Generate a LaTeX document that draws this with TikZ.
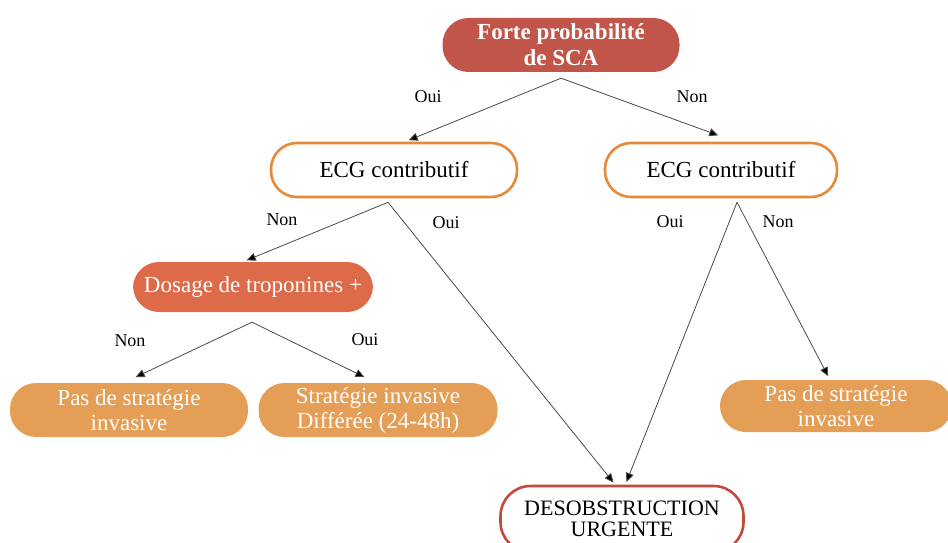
\documentclass[tikz,border=0pt]{standalone}
\usepackage{fontspec}
\setmainfont{Liberation Serif}
\usetikzlibrary{arrows.meta,calc}
\definecolor{topred}{HTML}{C25549}
\definecolor{dosred}{HTML}{DD6B4A}
\definecolor{pasorg}{HTML}{E59E55}
\definecolor{ecgorg}{HTML}{E8893A}
\definecolor{deso}{HTML}{C44A3E}
\definecolor{linegray}{HTML}{4A4A4A}
\begin{document}
\begin{tikzpicture}[x=1pt,y=-1pt,
  pill/.style={rectangle, rounded corners=26pt, align=center, inner sep=2pt,
    font=\fontsize{23}{25}\selectfont, minimum height=54pt},
  filled/.style={pill, fill=#1, draw=none, text=white},
  outlined/.style={pill, fill=white, draw=#1, line width=2.6pt, text=black},
  arr/.style={draw=linegray, line width=0.8pt, -{Triangle[length=9pt,width=8pt,fill=black]}, shorten >=4pt},
  lbl/.style={font=\fontsize{18}{20}\selectfont, text=black}]
\useasboundingbox (0,0) rectangle (948,543);

\node[filled=topred, minimum width=237pt, font=\fontsize{23}{26}\selectfont\bfseries] (top) at (561,45) {Forte probabilité\\de SCA};
\node[outlined=ecgorg, minimum width=246pt] (ecgL) at (394,170) {ECG contributif};
\node[outlined=ecgorg, minimum width=232pt] (ecgR) at (721,170) {ECG contributif};
\node[filled=dosred, minimum width=240pt, minimum height=50pt] (dos) at (253,287) {Dosage de troponines +};
\node[filled=pasorg, minimum width=238pt] (pasL) at (129,410) {Pas de stratégie\\invasive};
\node[filled=pasorg, minimum width=239pt] (strat) at (378,410) {Stratégie invasive\\Différée (24-48h)};
\node[filled=pasorg, minimum width=232pt, minimum height=52pt] (pasR) at (836,406) {Pas de stratégie\\invasive};
\node[outlined=deso, minimum width=243pt, minimum height=66pt, rounded corners=30pt, font=\fontsize{22}{21}\selectfont] (des) at (622,519) {DESOBSTRUCTION\\URGENTE};

\coordinate (b0) at ([yshift=-6pt]top.south);
\coordinate (b1) at ([yshift=-4pt,xshift=-6pt]ecgL.south);
\coordinate (b2) at ([yshift=-4pt,xshift=16pt]ecgR.south);
\coordinate (b3) at ([yshift=-10pt,xshift=-1pt]dos.south);

\draw[arr] (b0) -- ([xshift=11pt]ecgL.north);
\draw[arr] (b0) -- ([xshift=1pt,yshift=5pt]ecgR.north);
\draw[arr] (b1) -- ([xshift=-10pt]dos.north);
\draw[arr] (b1) -- ([xshift=-6pt,yshift=-1pt]des.north);
\draw[arr] (b2) -- ([xshift=3pt,yshift=-1pt]des.north);
\draw[arr] (b2) -- ([xshift=-6pt]pasR.north);
\draw[arr] (b3) -- ([xshift=3pt,yshift=4pt]pasL.north);
\draw[arr] (b3) -- ([xshift=-10pt,yshift=4pt]strat.north);

\node[lbl] (l1) at (428,97) {Oui};
\node[lbl] (l2) at (692,97) {Non};
\node[lbl] (l3) at (282,220) {Non};
\node[lbl] (l4) at (446,223) {Oui};
\node[lbl] (l5) at (670,222) {Oui};
\node[lbl] (l6) at (778,222) {Non};
\node[lbl] (l7) at (130,341) {Non};
\node[lbl] (l8) at (365,340) {Oui};
\end{tikzpicture}
\end{document}
